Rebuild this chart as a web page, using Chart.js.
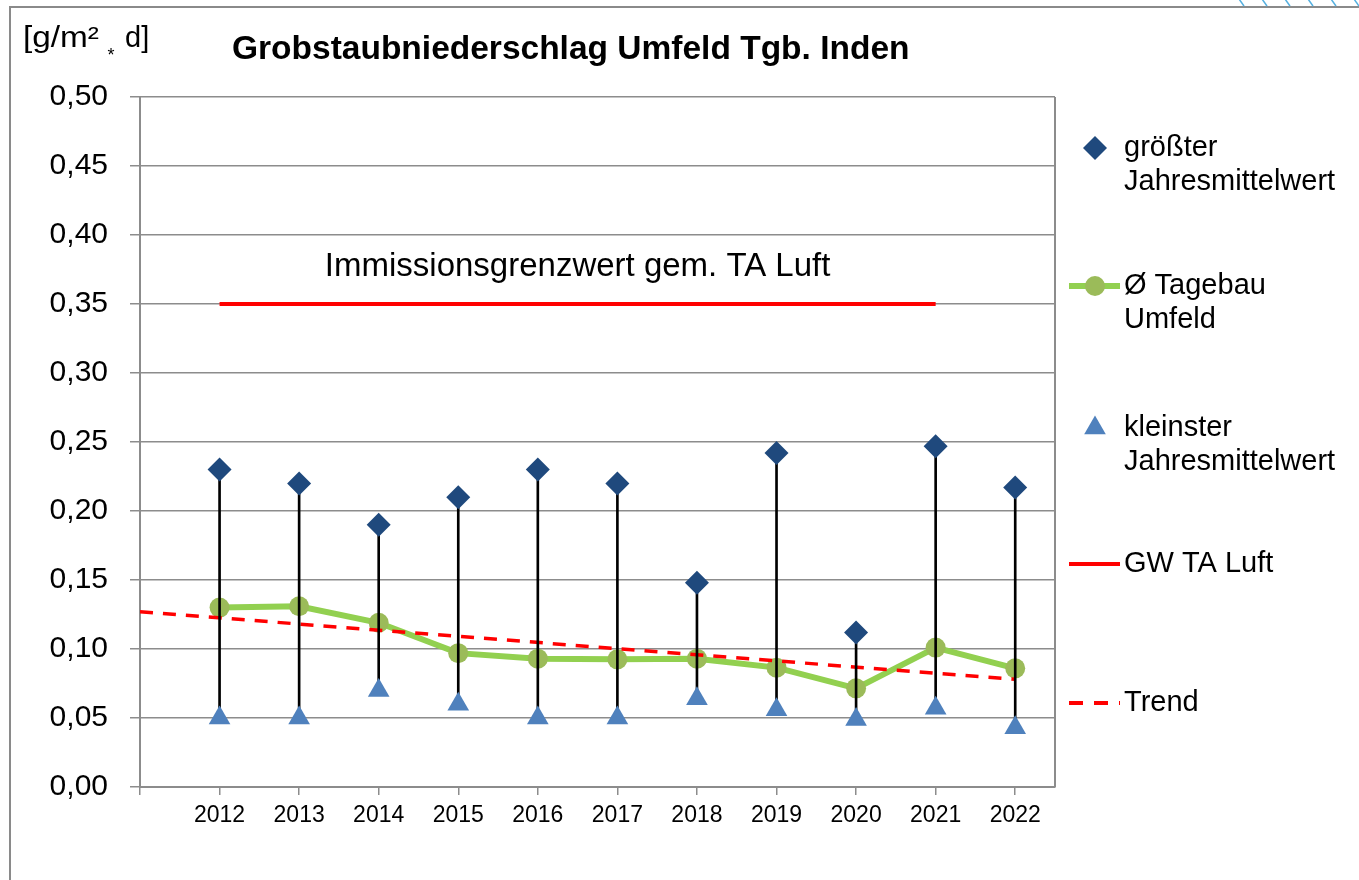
<!DOCTYPE html>
<html>
<head>
<meta charset="utf-8">
<title>Grobstaubniederschlag Umfeld Tgb. Inden</title>
<script src="https://cdn.jsdelivr.net/npm/chart.js@4.4.1/dist/chart.umd.min.js"></script>
<style>
  html, body { margin: 0; padding: 0; background: #fff; overflow: hidden; }
  #wrap { position: relative; width: 1359px; height: 880px; }
</style>
</head>
<body>
<div id="wrap"><canvas id="dustChart"></canvas></div>
<script>
const years = [2012, 2013, 2014, 2015, 2016, 2017, 2018, 2019, 2020, 2021, 2022];
const maxValues = [0.230, 0.220, 0.190, 0.210, 0.230, 0.220, 0.148, 0.242, 0.112, 0.247, 0.217];
const meanValues = [0.130, 0.131, 0.119, 0.097, 0.093, 0.0925, 0.093, 0.0865, 0.0715, 0.101, 0.086];
const minValues = [0.050, 0.050, 0.070, 0.060, 0.050, 0.050, 0.064, 0.056, 0.049, 0.057, 0.043];
const limitYears = [2012, 2021];
const limitValue = 0.35;
const trendYears = [2011, 2022];
const trendValues = [0.127, 0.078];
const xTickYears = [2011, 2012, 2013, 2014, 2015, 2016, 2017, 2018, 2019, 2020, 2021, 2022];

const FONT = '"Liberation Sans", Arial, sans-serif';
const C_MAX = '#1F497D';
const C_MIN = '#4F81BD';
const C_MEAN_LINE = '#92D050';
const C_MEAN_PT = '#9BBB59';
const C_RED = '#FF0000';
const C_GRID = '#8c8c8c';

const R_DIAMOND = 12;
const R_TRIANGLE = 12.5;
const R_CIRCLE = 10;

const pts = (xs, ys) => xs.map((x, i) => ({ x, y: ys[i] }));

const legendItems = [
  { kind: 'diamond', lines: ['größter', 'Jahresmittelwert'], y: 148 },
  { kind: 'meanline', lines: ['Ø Tagebau', 'Umfeld'], y: 286 },
  { kind: 'triangle', lines: ['kleinster', 'Jahresmittelwert'], y: 428 },
  { kind: 'redline', lines: ['GW TA Luft'], y: 564 },
  { kind: 'dashline', lines: ['Trend'], y: 703 },
];

function marker(ctx, kind, x, y) {
  ctx.beginPath();
  if (kind === 'diamond') {
    const r = R_DIAMOND;
    ctx.fillStyle = C_MAX;
    ctx.moveTo(x - r, y); ctx.lineTo(x, y - r); ctx.lineTo(x + r, y); ctx.lineTo(x, y + r);
  } else if (kind === 'triangle') {
    const r = R_TRIANGLE;
    ctx.fillStyle = C_MIN;
    ctx.moveTo(x, y - r);
    ctx.lineTo(x + Math.sin(2 * Math.PI / 3) * r, y + r / 2);
    ctx.lineTo(x - Math.sin(2 * Math.PI / 3) * r, y + r / 2);
  } else {
    ctx.fillStyle = C_MEAN_PT;
    ctx.arc(x, y, R_CIRCLE, 0, Math.PI * 2);
  }
  ctx.closePath();
  ctx.fill();
}

const decor = {
  id: 'decor',
  beforeDraw(chart) {
    const ctx = chart.ctx;
    ctx.save();
    // outer frame
    ctx.strokeStyle = '#8a8a8a';
    ctx.lineWidth = 2;
    ctx.beginPath();
    ctx.moveTo(10, 880); ctx.lineTo(10, 7); ctx.lineTo(1359, 7);
    ctx.stroke();
    // hatch in the top right corner
    ctx.strokeStyle = '#55b0e0';
    ctx.lineWidth = 1.5;
    [1243, 1266, 1289, 1312, 1335, 1358].forEach(x => {
      ctx.beginPath(); ctx.moveTo(x - 4, -1); ctx.lineTo(x + 1, 6); ctx.stroke();
    });
    ctx.restore();
  },
  afterDraw(chart) {
    const ctx = chart.ctx;
    const area = chart.chartArea;
    const xs = chart.scales.x, ys = chart.scales.y;
    ctx.save();

    // right border of the plot area
    ctx.strokeStyle = C_GRID;
    ctx.lineWidth = 2;
    ctx.beginPath();
    ctx.moveTo(area.right, area.top); ctx.lineTo(area.right, area.bottom);
    ctx.stroke();

    // title
    ctx.fillStyle = '#000';
    ctx.textAlign = 'left';
    ctx.textBaseline = 'alphabetic';
    ctx.font = 'bold 33.5px ' + FONT;
    ctx.fillText('Grobstaubniederschlag Umfeld Tgb. Inden', 232, 59);

    // unit, slightly widened like the original
    ctx.save();
    ctx.translate(23, 47);
    ctx.scale(1.15, 1);
    ctx.font = '29px ' + FONT;
    ctx.fillText('[g/m²', 0, 0);
    ctx.restore();
    ctx.font = '29px ' + FONT;
    ctx.fillText('d]', 125, 47);
    ctx.font = '18px ' + FONT;
    ctx.textAlign = 'center';
    ctx.fillText('*', 111, 61);

    // limit annotation
    ctx.font = '33px ' + FONT;
    const midX = (xs.getPixelForValue(limitYears[0]) + xs.getPixelForValue(limitYears[1])) / 2;
    ctx.fillText('Immissionsgrenzwert gem. TA Luft', midX, ys.getPixelForValue(limitValue) - 28);

    // legend
    const mx = area.right + 40, tx = area.right + 69;
    const x1 = area.right + 14, x2 = area.right + 65;
    ctx.font = '29px ' + FONT;
    ctx.textAlign = 'left';
    ctx.textBaseline = 'middle';
    legendItems.forEach(it => {
      if (it.kind === 'diamond' || it.kind === 'triangle') {
        marker(ctx, it.kind, mx, it.y);
      } else {
        ctx.beginPath();
        ctx.setLineDash(it.kind === 'dashline' ? [14, 11] : []);
        ctx.strokeStyle = it.kind === 'meanline' ? C_MEAN_LINE : C_RED;
        ctx.lineWidth = it.kind === 'meanline' ? 6 : 4;
        ctx.moveTo(x1, it.y); ctx.lineTo(x2, it.y);
        ctx.stroke();
        ctx.setLineDash([]);
        if (it.kind === 'meanline') marker(ctx, 'circle', mx, it.y);
      }
      ctx.fillStyle = '#000';
      it.lines.forEach((t, i) => ctx.fillText(t, tx, it.y + i * 34));
    });
    ctx.restore();
  }
};

new Chart(document.getElementById('dustChart'), {
  type: 'line',
  data: {
    datasets: [
      {
        label: 'kleinster Jahresmittelwert',
        data: pts(years, minValues),
        showLine: false,
        pointStyle: 'triangle',
        pointRadius: R_TRIANGLE,
        pointBackgroundColor: C_MIN,
        pointBorderColor: C_MIN,
        pointBorderWidth: 0,
      },
      {
        label: 'größter Jahresmittelwert',
        data: pts(years, maxValues),
        showLine: false,
        pointStyle: 'rectRot',
        pointRadius: R_DIAMOND,
        pointBackgroundColor: C_MAX,
        pointBorderColor: C_MAX,
        pointBorderWidth: 0,
      },
      {
        type: 'bar',
        label: 'Spanne',
        data: years.map((x, i) => ({ x, y: [minValues[i], maxValues[i]] })),
        backgroundColor: '#000',
        barThickness: 2,
      },
      {
        label: 'Trend',
        data: pts(trendYears, trendValues),
        borderColor: C_RED,
        borderWidth: 3.5,
        borderDash: [13, 10],
        pointRadius: 0,
      },
      {
        label: 'Ø Tagebau Umfeld',
        data: pts(years, meanValues),
        borderColor: C_MEAN_LINE,
        borderWidth: 6,
        pointRadius: R_CIRCLE,
        pointBackgroundColor: C_MEAN_PT,
        pointBorderColor: C_MEAN_PT,
        pointBorderWidth: 0,
      },
      {
        label: 'GW TA Luft',
        data: pts(limitYears, [limitValue, limitValue]),
        borderColor: C_RED,
        borderWidth: 4,
        pointRadius: 0,
      },
    ],
  },
  options: {
    responsive: true,
    maintainAspectRatio: false,
    animation: false,
    events: [],
    layout: { padding: { top: 97, right: 304, bottom: 0, left: 0 } },
    plugins: {
      legend: { display: false },
      tooltip: { enabled: false },
    },
    scales: {
      x: {
        type: 'linear',
        min: 2011,
        max: 2022.5,
        offset: false,
        afterBuildTicks: scale => { scale.ticks = xTickYears.map(value => ({ value })); },
        afterFit: scale => { scale.height = 93; },
        ticks: {
          autoSkip: false,
          maxRotation: 0,
          padding: 7,
          color: '#000',
          font: { family: FONT, size: 23 },
          callback: v => (v === xTickYears[0] ? '' : String(v)),
        },
        grid: { offset: false, drawOnChartArea: false, tickLength: 8, color: C_GRID, lineWidth: 1.5 },
        border: { color: C_GRID, width: 2 },
      },
      y: {
        min: 0,
        max: 0.5,
        afterFit: scale => { scale.width = 140; },
        ticks: {
          stepSize: 0.05,
          padding: 22,
          color: '#000',
          font: { family: FONT, size: 30 },
          callback: v => v.toFixed(2).replace('.', ','),
        },
        grid: { color: C_GRID, lineWidth: 1.5, tickLength: 10 },
        border: { color: C_GRID, width: 2 },
      },
    },
  },
  plugins: [decor],
});
</script>
</body>
</html>
